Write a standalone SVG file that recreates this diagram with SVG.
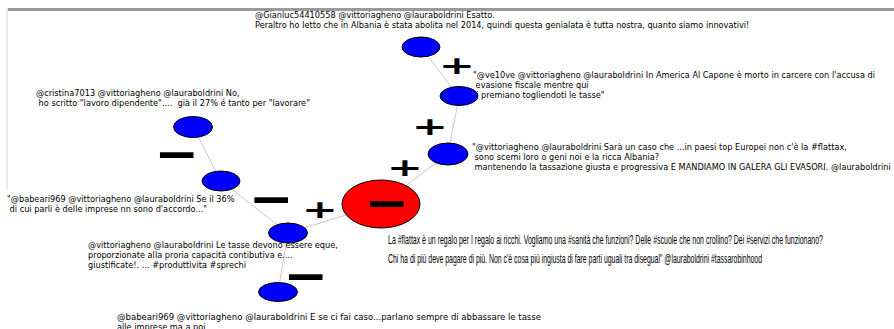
<svg xmlns="http://www.w3.org/2000/svg" width="894" height="329" viewBox="0 0 894 329">
<style>
.tw{font-family:"DejaVu Sans",Verdana,sans-serif;font-size:8.2px;fill:#000}
.ft{font-family:"Liberation Sans",Arial,sans-serif;font-size:13px;fill:#000}
.edge{stroke:#c8c8c8;stroke-width:1;fill:none}
.blue{fill:#0000ff;stroke:#000;stroke-width:1}
.red{fill:#ff0000;stroke:#000;stroke-width:1}
.sign{font-family:"DejaVu Sans",sans-serif;font-weight:bold;font-size:24.6px;fill:#000;text-anchor:middle}
</style>
<rect x="0" y="0" width="894" height="329" fill="#fff"/>
<rect x="8" y="8" width="886" height="3" fill="#9a9a9a"/>
<rect x="6" y="8" width="2" height="182" fill="#ececec"/>
<g id="connectors">
<line class="edge" x1="421" y1="47" x2="459" y2="97"/>
<line class="edge" x1="459" y1="97" x2="448" y2="154"/>
<line class="edge" x1="448" y1="154" x2="381" y2="204"/>
<line class="edge" x1="381" y1="204" x2="288" y2="233"/>
<line class="edge" x1="288" y1="233" x2="221" y2="181"/>
<line class="edge" x1="221" y1="181" x2="193" y2="127"/>
<line class="edge" x1="288" y1="233" x2="278" y2="292"/>
<text class="sign" transform="translate(457,65) scale(1.76,1)" x="0" y="8.5">+</text>
<text class="sign" transform="translate(430,126) scale(1.76,1)" x="0" y="8.5">+</text>
<text class="sign" transform="translate(405,167) scale(1.76,1)" x="0" y="8.5">+</text>
<text class="sign" transform="translate(320,209) scale(1.76,1)" x="0" y="8.5">+</text>
<text class="sign" transform="translate(271.5,198.5) scale(2.18,2.03)" x="0" y="8.5">−</text>
<text class="sign" transform="translate(177,153.5) scale(2.18,2.03)" x="0" y="8.5">−</text>
<text class="sign" transform="translate(306,276) scale(2.18,2.03)" x="0" y="8.5">−</text>
</g>
<g id="node-gianluc">
<text class="tw" x="255" y="17.5">@Gianluc54410558 @vittoriagheno @lauraboldrini Esatto.</text>
<text class="tw" x="255" y="27.5">Peraltro ho letto che in Albania è stata abolita nel 2014, quindi questa genialata è tutta nostra, quanto siamo innovativi!</text>
<ellipse class="blue" cx="421" cy="47" rx="19" ry="10"/>
</g>
<g id="node-ve10ve">
<text class="tw" x="473" y="77.5">"@ve10ve @vittoriagheno @lauraboldrini In America Al Capone è morto in carcere con l'accusa di</text>
<text class="tw" x="473" y="87.5" xml:space="preserve"> evasione fiscale mentre qui</text>
<text class="tw" x="473" y="97.5">ti premiano togliendoti le tasse"</text>
<ellipse class="blue" cx="459" cy="96" rx="19" ry="9.5"/>
</g>
<g id="node-sara">
<text class="tw" x="472" y="150">"@vittoriagheno @lauraboldrini Sarà un caso che ...in paesi top Europei non c'è la #flattax,</text>
<text class="tw" x="472" y="160" xml:space="preserve"> sono scemi loro o geni noi e la ricca Albania?</text>
<text class="tw" x="472" y="170" xml:space="preserve"> mantenendo la tassazione giusta e progressiva E MANDIAMO IN GALERA GLI EVASORI. @lauraboldrini</text>
<ellipse class="blue" cx="448" cy="154" rx="20" ry="11"/>
</g>
<g id="node-flattax">
<text class="ft" x="388" y="243.5" textLength="435" lengthAdjust="spacingAndGlyphs">La #flattax è un regalo per I regalo ai ricchi. Vogliamo una #sanità che funzioni? Delle #scuole che non crollino? Dei #servizi che funzionano?</text>
<text class="ft" x="388" y="262.5" textLength="374" lengthAdjust="spacingAndGlyphs">Chi ha di più deve pagare di più. Non c'è cosa più ingiusta di fare parti uguali tra disegual" @lauraboldrini #tassarobinhood</text>
<ellipse class="red" cx="381" cy="204" rx="39" ry="24"/>
<text class="sign" transform="translate(387,203) scale(2.18,2.03)" x="0" y="8.5">−</text>
</g>
<g id="node-cristina">
<text class="tw" x="36" y="96">@cristina7013 @vittoriagheno @lauraboldrini No,</text>
<text class="tw" x="36" y="106" xml:space="preserve"> ho scritto "lavoro dipendente"....  già il 27% é tanto per "lavorare"</text>
<ellipse class="blue" cx="193" cy="127" rx="19.5" ry="10.5"/>
</g>
<g id="node-babeari1">
<text class="tw" x="7" y="202">"@babeari969 @vittoriagheno @lauraboldrini Se il 36%</text>
<text class="tw" x="7" y="212" xml:space="preserve"> di cui parli è delle imprese nn sono d'accordo..."</text>
<ellipse class="blue" cx="221" cy="181" rx="19" ry="10"/>
</g>
<g id="node-tasse">
<text class="tw" x="88" y="248">@vittoriagheno @lauraboldrini Le tasse devono essere eque,</text>
<text class="tw" x="88" y="258">proporzionate alla proria capacità contibutiva e....</text>
<text class="tw" x="88" y="268">giustificate!. ... #produttivita #sprechi</text>
<ellipse class="blue" cx="288" cy="233" rx="19.5" ry="10"/>
</g>
<g id="node-babeari2">
<text class="tw" x="117" y="319.5" textLength="424" lengthAdjust="spacingAndGlyphs">@babeari969 @vittoriagheno @lauraboldrini E se ci fai caso...parlano sempre di abbassare le tasse</text>
<text class="tw" x="117" y="330">alle imprese ma a poi</text>
<ellipse class="blue" cx="278" cy="292" rx="19.5" ry="9.5"/>
</g>
</svg>
